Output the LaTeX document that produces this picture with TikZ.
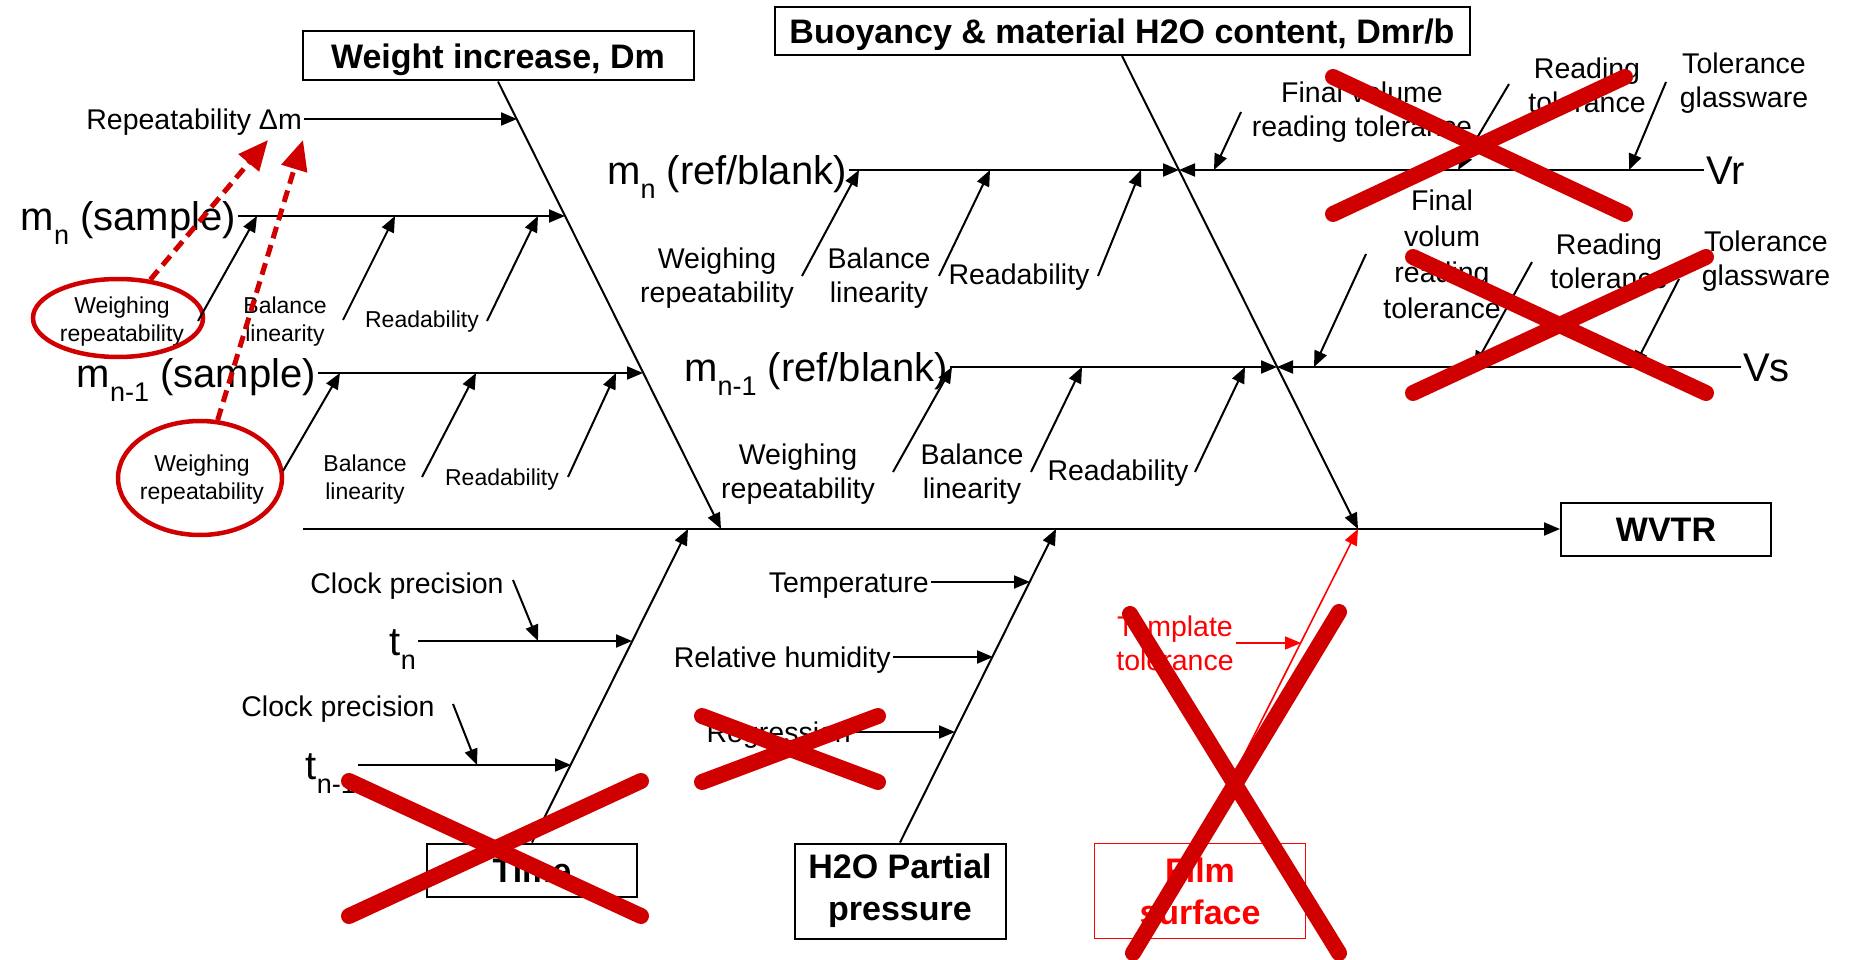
\documentclass[tikz,border=0pt]{standalone}
\usepackage{fontspec}
\setmainfont{Liberation Sans}
\usetikzlibrary{arrows.meta,shapes.geometric}
\definecolor{xred}{RGB}{208,0,0}
\newcommand{\lowidx}[1]{\raisebox{-14pt}{\fontsize{27}{30}\selectfont #1}}

\begin{document}
\begin{tikzpicture}[x=1pt,y=-1pt,
  big/.style={font=\fontsize{40}{46}\selectfont, inner sep=2pt, text height=44.8pt, text depth=16pt},
  mid/.style={font=\fontsize{28.5}{34}\selectfont, align=center, inner sep=2pt},
  side/.style={mid, text height=21pt, text depth=0pt},
  small/.style={font=\fontsize{23}{28}\selectfont, align=center, inner sep=2pt},
  head/.style={draw, line width=2pt, font=\fontsize{34}{42}\selectfont\bfseries, align=center, inner sep=0pt},
  line1/.style={text height=24.6pt, text depth=0pt},
  arr/.style={line width=2pt, -{Triangle[length=16pt,width=13pt]}},
  redarr/.style={red, line width=1.6pt, -{Triangle[length=16pt,width=13pt]}},
  ring/.style={draw=xred, line width=4.5pt, ellipse, inner sep=0pt},
  hint/.style={xred, line width=5pt, dash pattern=on 12pt off 7pt, -{Triangle[length=30pt,width=26pt]}},
  cross/.style={xred, line width=16pt, line cap=round}]
\useasboundingbox (0,0) rectangle (1850,960);

% boxes
\node[head, line1, minimum width=391pt, minimum height=49pt] (w) at (498,56) {Weight increase, Dm};
\node[head, line1, minimum width=695pt, minimum height=48pt] (b) at (1122,31) {Buoyancy \& material H2O content, Dmr/b};
\node[head, line1, minimum width=210pt, minimum height=53pt] (r) at (1666,529) {WVTR};
\node[head, line1, minimum width=210pt, minimum height=53pt] (t) at (532,870) {Time};
\node[head, minimum width=211pt, minimum height=95pt] (h) at (900,891) {H2O Partial\\pressure};
\node[head, draw=red, text=red, line width=1.5pt, minimum width=211pt, minimum height=95pt] (f) at (1200,891) {Film\\surface};

% spine and bones
\coordinate (s) at (303,529);
\coordinate (j1) at (721,529);
\coordinate (j2) at (1358,529);
\coordinate (j3) at (688,529);
\coordinate (j4) at (1056,529);
\path[draw,arr] (s) -- (r);
\path[draw,arr] (w.south) -- (j1);
\path[draw,arr] (b.south) -- (j2);
\path[draw,arr] (t.north) -- (j3);
\path[draw,arr] (h.north) -- (j4);
\path[draw,redarr] (f.north) -- (j2);

% weight increase
\node[side, anchor=east] (dm) at (304,119) {Repeatability Δm};
\coordinate (p0) at (517,119);
\path[draw,arr] (dm) -- (p0);

\node[big, anchor=east] (ms) at (238,216) {m\lowidx{n} (sample)};
\coordinate (p1) at (565,216);
\path[draw,arr] (ms) -- (p1);
\node[small] (l1) at (122,322) {Weighing\\repeatability};
\node[ring, minimum width=170pt, minimum height=78pt] (o1) at (118,318) {};
\node[small] (l2) at (285,322) {Balance\\linearity};
\node[small] (l3) at (422,322) {Readability};
\coordinate (a1) at (198,321);
\coordinate (a2) at (343,320);
\coordinate (a3) at (487,321);
\coordinate (p11) at (257,216);
\coordinate (p12) at (395,216);
\coordinate (p13) at (538,216);
\path[draw,arr] (a1) -- (p11);
\path[draw,arr] (a2) -- (p12);
\path[draw,arr] (a3) -- (p13);

\node[big, anchor=east] (ms2) at (318,373) {m\lowidx{n-1} (sample)};
\coordinate (p2) at (643,373);
\path[draw,arr] (ms2) -- (p2);
\node[small] (l4) at (202,480) {Weighing\\repeatability};
\node[ring, minimum width=164pt, minimum height=114pt] (o2) at (200,478) {};
\node[small] (l5) at (365,480) {Balance\\linearity};
\node[small] (l6) at (502,480) {Readability};
\coordinate (b1) at (283,471);
\coordinate (b2) at (422,477);
\coordinate (b3) at (568,477);
\coordinate (p21) at (340,373);
\coordinate (p22) at (476,373);
\coordinate (p23) at (616,373);
\path[draw,arr] (b1) -- (p21);
\path[draw,arr] (b2) -- (p22);
\path[draw,arr] (b3) -- (p23);

% buoyancy
\node[big, anchor=east] (mr) at (849,170) {m\lowidx{n} (ref/blank)};
\coordinate (p3) at (1179,170);
\path[draw,arr] (mr) -- (p3);
\node[mid] (l7) at (717,278) {Weighing\\repeatability};
\node[mid] (l8) at (879,278) {Balance\\linearity};
\node[mid] (l9) at (1019,277) {Readability};
\coordinate (c1) at (802,276);
\coordinate (c2) at (939,276);
\coordinate (c3) at (1098,276);
\coordinate (p31) at (859,170);
\coordinate (p32) at (990,170);
\coordinate (p33) at (1141,170);
\path[draw,arr] (c1) -- (p31);
\path[draw,arr] (c2) -- (p32);
\path[draw,arr] (c3) -- (p33);

\node[big, anchor=east] (mr2) at (950,367) {m\lowidx{n-1} (ref/blank)};
\coordinate (p4) at (1277,367);
\path[draw,arr] (mr2) -- (p4);
\node[mid] (l10) at (798,474) {Weighing\\repeatability};
\node[mid] (l11) at (972,474) {Balance\\linearity};
\node[mid] (l12) at (1118,473) {Readability};
\coordinate (d1) at (893,472);
\coordinate (d2) at (1031,472);
\coordinate (d3) at (1195,472);
\coordinate (p41) at (952,367);
\coordinate (p42) at (1082,367);
\coordinate (p43) at (1245,367);
\path[draw,arr] (d1) -- (p41);
\path[draw,arr] (d2) -- (p42);
\path[draw,arr] (d3) -- (p43);

\node[big, anchor=west] (vr) at (1704,170) {Vr};
\path[draw,arr] (vr) -- (p3);
\node[mid] (l13) at (1362,112) {Final volume\\reading tolerance};
\node[mid] (l14) at (1587,85) {Reading\\tolerance};
\node[mid] (l15) at (1744,83) {Tolerance\\glassware};
\coordinate (v1) at (1241,112);
\coordinate (v2) at (1509,84);
\coordinate (v3) at (1666,82);
\coordinate (p51) at (1214,170);
\coordinate (p52) at (1458,170);
\coordinate (p53) at (1629,170);
\path[draw,arr] (v1) -- (p51);
\path[draw,arr] (v2) -- (p52);
\path[draw,arr] (v3) -- (p53);

\node[big, anchor=west] (vs) at (1741,367) {Vs};
\path[draw,arr] (vs) -- (p4);
\node[mid, font=\fontsize{28.5}{36}\selectfont] (l16) at (1442,254) {Final\\volum\\reading\\tolerance};
\node[mid] (l17) at (1609,261) {Reading\\tolerance};
\node[mid] (l18) at (1766,261) {Tolerance\\glassware};
\coordinate (u1) at (1366,254);
\coordinate (u2) at (1532,262);
\coordinate (u3) at (1679,279);
\coordinate (p61) at (1314,367);
\coordinate (p62) at (1474,367);
\coordinate (p63) at (1634,367);
\path[draw,arr] (u1) -- (p61);
\path[draw,arr] (u2) -- (p62);
\path[draw,arr] (u3) -- (p63);

% time
\node[big, anchor=east] (tn) at (418,641) {t\lowidx{n}};
\coordinate (p7) at (632,641);
\path[draw,arr] (tn) -- (p7);
\node[mid] (k1) at (407,586) {Clock precision};
\coordinate (k1t) at (513,580);
\coordinate (p71) at (538,641);
\path[draw,arr] (k1t) -- (p71);

\node[big, anchor=east] (tn2) at (358,765) {t\lowidx{n-1}};
\coordinate (p8) at (571,765);
\path[draw,arr] (tn2) -- (p8);
\node[mid] (k2) at (338,709) {Clock precision};
\coordinate (k2t) at (453,704);
\coordinate (p81) at (477,765);
\path[draw,arr] (k2t) -- (p81);

% H2O partial pressure
\node[side, anchor=east] (tp) at (931,582) {Temperature};
\coordinate (p9) at (1030,582);
\path[draw,arr] (tp) -- (p9);
\node[side, anchor=east] (rh) at (893,657) {Relative humidity};
\coordinate (p10) at (993,657);
\path[draw,arr] (rh) -- (p10);
\node[side, anchor=east] (rg) at (853,732) {Regression};
\coordinate (p11b) at (955,732);
\path[draw,arr] (rg) -- (p11b);

% film surface
\node[mid, text=red] (tt) at (1175,643) {Template\\tolerance};
\coordinate (p12b) at (1301,643);
\path[draw,redarr] (tt) -- (p12b);

% red marks
\coordinate (h1) at (268,140);
\coordinate (h2) at (303,140);
\path[draw,hint] (o1) -- (h1);
\path[draw,hint] (o2) -- (h2);

\draw[cross] (1333,77) -- (1625,214);
\draw[cross] (1333,214) -- (1625,77);
\draw[cross] (1413,257) -- (1706,393);
\draw[cross] (1413,393) -- (1706,257);
\draw[cross] (349,781) -- (641,916);
\draw[cross] (349,916) -- (641,781);
\draw[cross] (702,716) -- (878,782);
\draw[cross] (702,782) -- (878,716);
\draw[cross] (1130,614) -- (1339,953);
\draw[cross] (1339,612) -- (1133,953);
\end{tikzpicture}
\end{document}
